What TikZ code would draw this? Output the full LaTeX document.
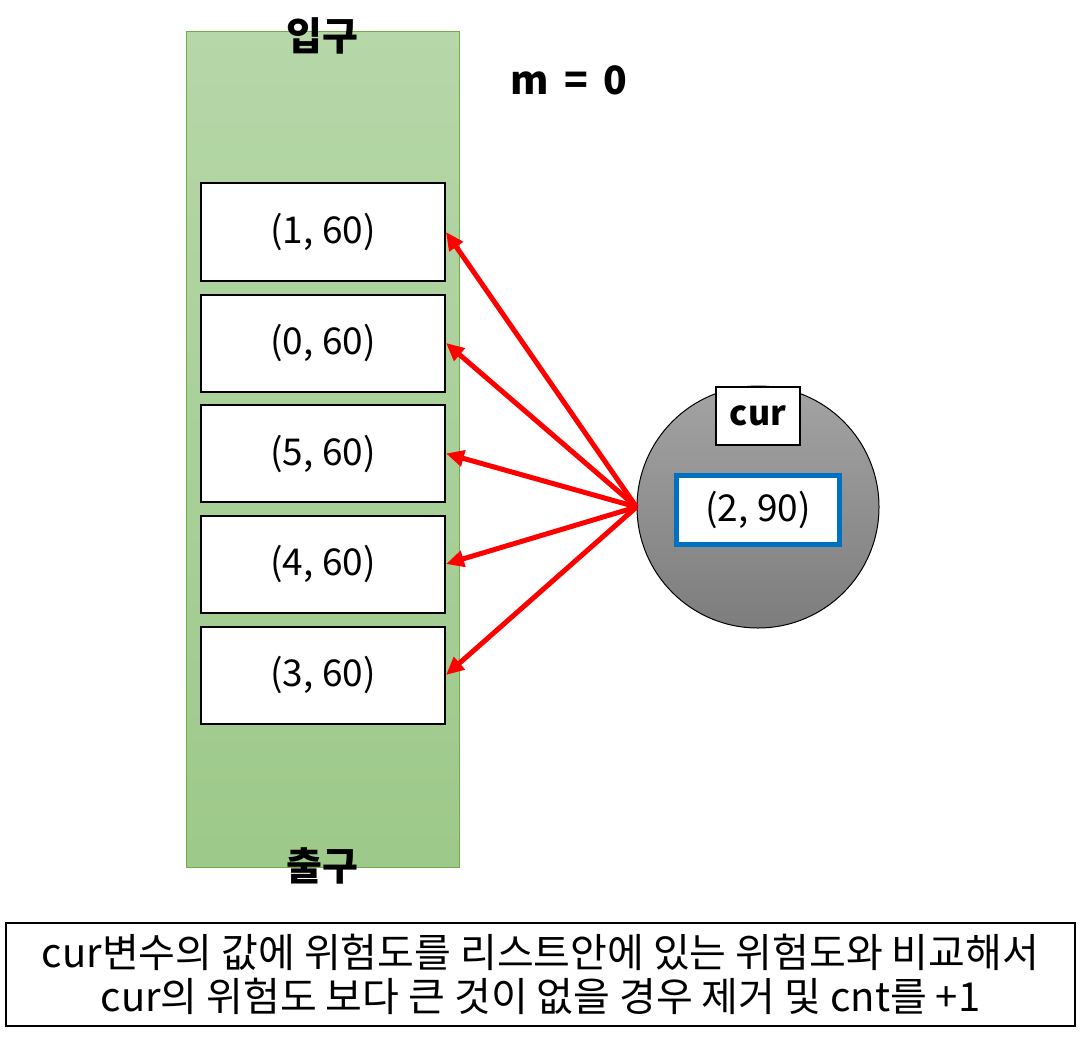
\documentclass[tikz,border=0pt]{standalone}
\usepackage{fontspec}
\setmainfont{Noto Sans CJK KR}
\usetikzlibrary{arrows.meta}
\definecolor{queuetop}{HTML}{B6D7A8}
\definecolor{queuebottom}{HTML}{9DC98A}
\definecolor{queueline}{HTML}{70AD47}
\definecolor{curblue}{HTML}{0070C0}

\begin{document}
\begin{tikzpicture}[x=0.5pt,y=-0.5pt,
    item/.style={draw,line width=1pt,fill=white,minimum width=122pt,minimum height=48.5pt,
        font=\fontsize{18.5}{21}\selectfont},
    hit/.style={red,line width=2.5pt,-{Triangle[length=9pt,width=8pt]}},
    title/.style={font=\fontsize{19.5}{22}\selectfont\bfseries}]
    \useasboundingbox (0,0) rectangle (1080,1043);

    % Queue body
    \node[draw=queueline,line width=0.5pt,top color=queuetop,bottom color=queuebottom,
        minimum width=136.5pt,minimum height=417.5pt] (queue) at (322.5,449.5) {};
    \node[title] (entry) at (322,36) {입구};
    \node[title] (exit) at (322,866) {출구};
    \node[title] (mval) at (569,80) {m\hspace{0.4em}=\hspace{0.4em}0};

    % Items in the queue
    \foreach \n/\y/\v in {1/232/{(1, 60)}, 2/343/{(0, 60)}, 3/453.5/{(5, 60)}, 4/564/{(4, 60)}, 5/675/{(3, 60)}} {
        \node[item] (box\n) at (323,\y) {\v};
    }

    % Current element
    \node[circle,draw,line width=0.5pt,top color=gray!72,bottom color=gray!98!black!100,
        minimum size=121pt] (cur) at (758,507) {};
    \node[draw,line width=1pt,fill=white,minimum width=42pt,minimum height=29pt,
        font=\fontsize{17}{20}\selectfont\bfseries] (curname) at (758,416) {cur};
    \node[draw=curblue,line width=2.5pt,fill=white,minimum width=81.5pt,minimum height=34.5pt,
        font=\fontsize{18.5}{21}\selectfont] (curval) at (758,510) {(2, 90)};

    % Comparisons
    \foreach \n in {1,...,5} {
        \draw[hit] (cur.west) -- (box\n.east);
    }

    % Note
    \node[draw,line width=1pt,minimum width=534.5pt,minimum height=51.5pt,align=center,
        font=\fontsize{20}{22}\selectfont] (note) at (540.5,974.5)
        {cur변수의 값에 위험도를 리스트안에 있는 위험도와 비교해서\\cur의 위험도 보다 큰 것이 없을 경우 제거 및 cnt를 +1};
\end{tikzpicture}
\end{document}
